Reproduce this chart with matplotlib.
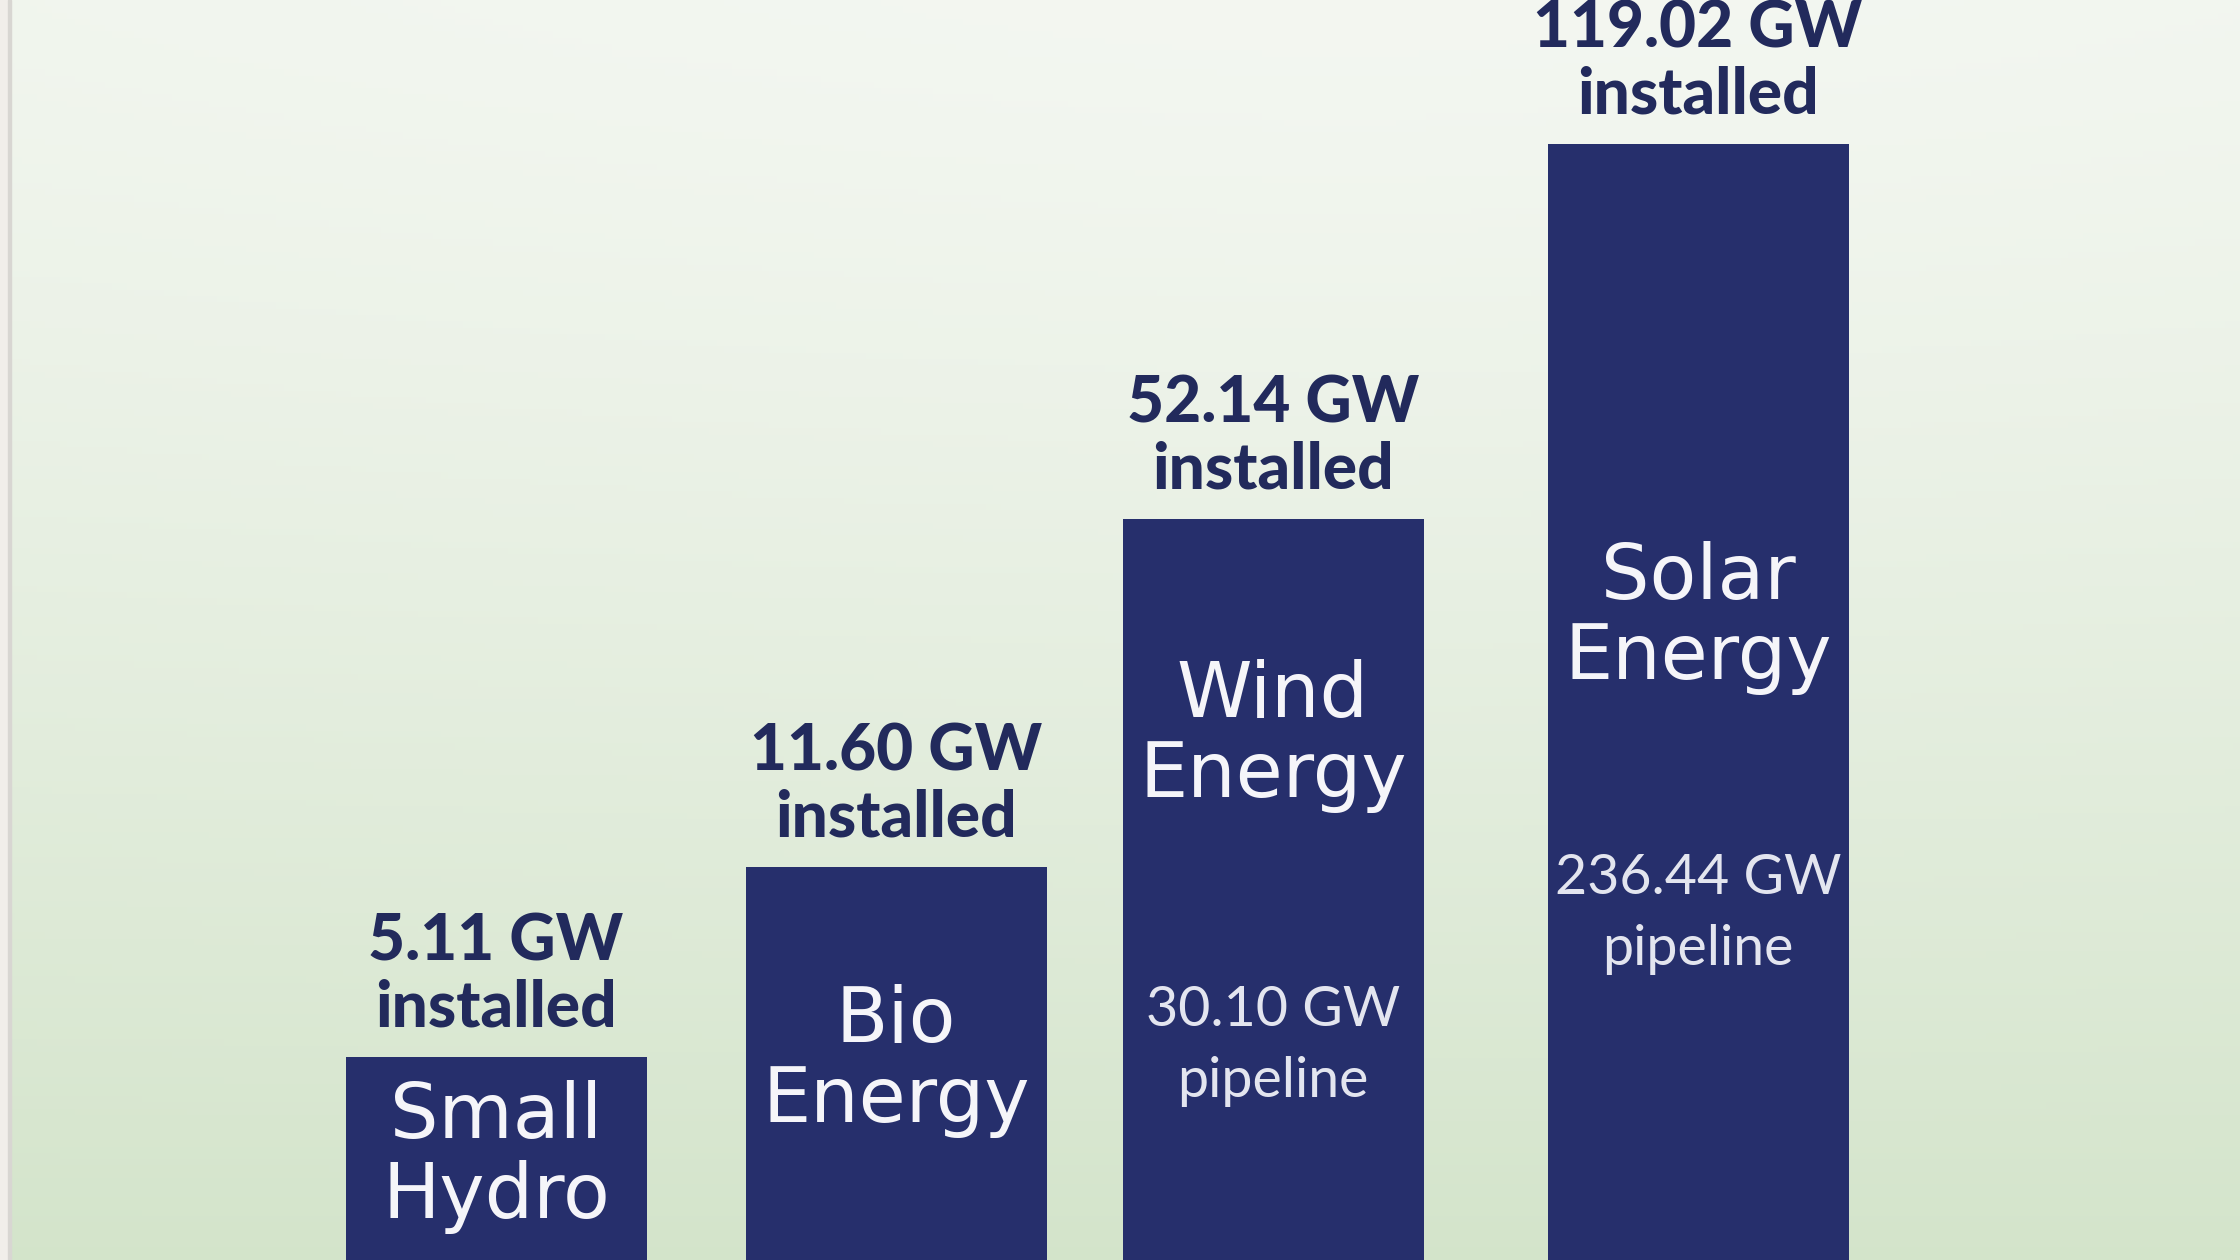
import numpy as np
import matplotlib.pyplot as plt

# data read from the infographic
CATEGORIES = ['Small\nHydro', 'Bio\nEnergy', 'Wind\nEnergy', 'Solar\nEnergy']
INSTALLED = ['5.11', '11.60', '52.14', '119.02']
PIPELINE = [None, None, '30.10', '236.44']
# drawn bar heights (the picture is not to scale, in px of the canvas)
BAR_HEIGHT = [203, 393, 741, 1116]

# layout
W, H = 2240, 1260
X_CENTER = [496, 896, 1273, 1698]
BAR_W = 301
LABEL_Y = [103, 199, 524, 642]      # centre of the white category text
PIPE_Y = [None, None, 214, 346]
NAVY = '#262f6c'
TEXT_NAVY = '#222a5c'

plt.rcParams['font.family'] = ['Lato', 'DejaVu Sans']

fig = plt.figure(figsize=(22.4, 12.6), dpi=100)
ax = fig.add_axes([0, 0, 1, 1])
ax.set_xlim(0, W)
ax.set_ylim(0, H)
ax.axis('off')

# background gradient: light at the top, soft green at the bottom
yy = np.linspace(0, 1, 200)[:, None]   # 0 top, 1 bottom
xx = np.linspace(0, 1, 300)[None, :]
top = np.array([0.955, 0.968, 0.945])
bottom = np.array([0.830, 0.895, 0.795])
t = yy ** 1.3
edge = 0.35 * np.abs(xx - 0.6) ** 1.5
t = np.clip(t + edge * (1 - t) * 0.5, 0, 1)
bg = top[None, None, :] * (1 - t[..., None]) + bottom[None, None, :] * t[..., None]
ax.imshow(bg, extent=[0, W, 0, H], aspect='auto', origin='upper', zorder=0)

# thin paper strip at left edge
ax.axvspan(0, 9, color='#f1eeea', zorder=1)
ax.axvspan(8, 11, color='#d8d6d2', zorder=1)

ax.bar(X_CENTER, BAR_HEIGHT, width=BAR_W, color=NAVY, zorder=2)

for i in range(len(CATEGORIES)):
    x = X_CENTER[i]
    ax.text(x, BAR_HEIGHT[i] + 82, INSTALLED[i] + ' GW\ninstalled',
            ha='center', va='center', fontsize=46, fontweight='black',
            color=TEXT_NAVY, linespacing=1.13, zorder=3)
    ax.text(x, LABEL_Y[i], CATEGORIES[i], ha='center', va='center',
            fontsize=55, family='DejaVu Sans',
            color='#f5f5f9', linespacing=1.12, zorder=3)
    if PIPELINE[i] is not None:
        ax.text(x, PIPE_Y[i], PIPELINE[i] + ' GW\npipeline', ha='center',
                va='center', fontsize=40, color='#e3e5ef', linespacing=1.5,
                zorder=3)

fig.savefig('out.png', dpi=100)
